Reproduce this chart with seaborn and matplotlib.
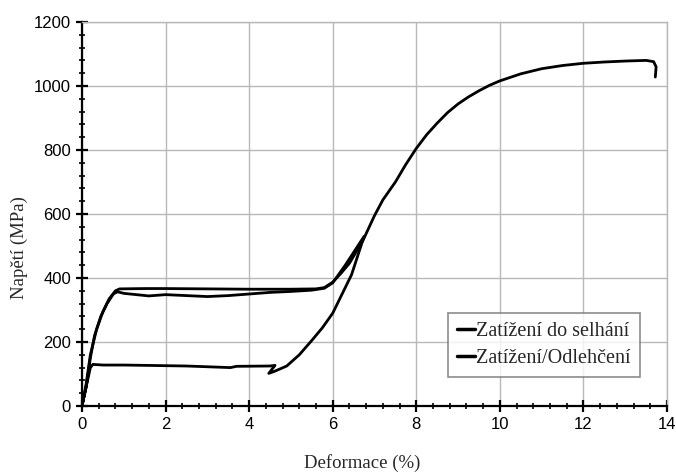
import numpy as np
import pandas as pd
import matplotlib
matplotlib.use("Agg")
import matplotlib.pyplot as plt
import seaborn as sns
from matplotlib.ticker import MultipleLocator

# --- data ---
fail_x = [0.0, 0.1, 0.2, 0.35, 0.5, 0.65, 0.8, 0.9, 1.5, 2.0, 3.0, 4.0, 5.0, 5.6, 5.8, 6.0,
          6.2, 6.4, 6.73, 7.0, 7.2, 7.5, 7.75, 8.0, 8.25, 8.5, 8.75, 9.0, 9.25, 9.5, 9.75,
          10.0, 10.5, 11.0, 11.5, 12.0, 12.5, 13.0, 13.5, 13.68, 13.74, 13.72]
fail_y = [0, 70, 160, 240, 295, 335, 360, 366, 367, 367, 366, 365, 365, 366, 370, 387,
          415, 446, 519, 595, 644, 700, 755, 805, 848, 884, 917, 944, 966, 985, 1002,
          1016, 1038, 1054, 1064, 1071, 1075, 1078, 1080, 1076, 1060, 1028]

cyc_x = [0.0, 0.1, 0.2, 0.3, 0.45, 0.6, 0.75, 0.85, 1.0, 1.3, 1.6, 2.0, 2.5, 3.0, 3.5,
         4.0, 4.5, 5.0, 5.5, 5.8, 6.0, 6.3, 6.75, 6.45, 6.0, 5.75, 5.5, 5.2, 4.9, 4.6,
         4.47, 4.62, 4.5, 3.7, 3.55, 2.5, 1.5, 1.0, 0.5, 0.26, 0.2, 0.1, 0.0]
cyc_y = [0, 60, 150, 220, 280, 320, 350, 357, 352, 348, 344, 348, 345, 342, 345,
         350, 355, 358, 362, 368, 385, 440, 530, 410, 290, 244, 205, 160, 125, 108,
         102, 127, 125, 124, 120, 125, 127, 128, 128, 130, 120, 60, 0]

labels = ["Zatížení do selhání", "Zatížení/Odlehčení"]

sns.set_style("white")
plt.rcParams['font.family'] = ['Liberation Sans', 'DejaVu Sans']

fig = plt.figure(figsize=(6.76, 4.72), dpi=100)
ax = fig.add_axes([82/676, 1-406/472, (667-82)/676, (406-22)/472])

for lab, xs, ys in [(labels[0], fail_x, fail_y), (labels[1], cyc_x, cyc_y)]:
    sub = pd.DataFrame({"x": xs, "y": ys})
    sns.lineplot(data=sub, x="x", y="y", sort=False, estimator=None, color="black",
                 linewidth=2, ax=ax, label=lab)

ax.set_xlim(0, 14)
ax.set_ylim(0, 1200)
ax.xaxis.set_major_locator(MultipleLocator(2))
ax.xaxis.set_minor_locator(MultipleLocator(0.4))
ax.yaxis.set_major_locator(MultipleLocator(200))
ax.yaxis.set_minor_locator(MultipleLocator(40))
ax.grid(True, which="major", color="#b8b8b8", linewidth=1)
ax.set_axisbelow(True)

for s in ["top", "right"]:
    ax.spines[s].set_color("#b8b8b8")
    ax.spines[s].set_linewidth(1)
for s in ["left", "bottom"]:
    ax.spines[s].set_color("black")
    ax.spines[s].set_linewidth(1.6)

ax.tick_params(which="major", direction="inout", length=8, width=1.6, colors="black",
               labelsize=12, left=True, bottom=True, pad=4)
ax.tick_params(which="minor", direction="inout", length=4, width=1.2, colors="black",
               left=True, bottom=True)

ax.set_xlabel("")
ax.set_ylabel("")
fig.text(362/676, 1-463/472, "Deformace (%)", ha="center", va="center",
         fontsize=13.5, family=["Liberation Serif", "DejaVu Serif"])
fig.text(19/676, 1-248/472, "Napětí (MPa)", ha="center", va="center", rotation=90,
         fontsize=13.5, family=["Liberation Serif", "DejaVu Serif"])

leg = ax.legend(loc="lower right", bbox_to_anchor=((640-82)/585, (406-377)/384),
                prop={"family": ["Liberation Serif", "DejaVu Serif"], "size": 14.5},
                handlelength=0.9, handletextpad=0.05, frameon=True, fancybox=False,
                borderpad=0.45, labelspacing=0.4, borderaxespad=0)
leg.get_frame().set_edgecolor("#707070")
leg.get_frame().set_linewidth(1.2)
for h in leg.get_lines():
    h.set_linewidth(2.5)

fig.savefig("out.png", dpi=100, facecolor="white")
